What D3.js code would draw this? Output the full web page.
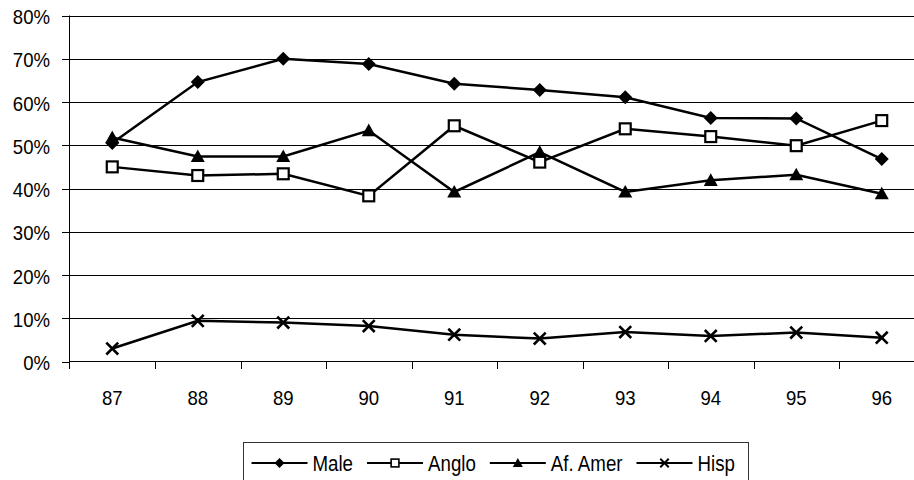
<!DOCTYPE html>
<html>
<head>
<meta charset="utf-8">
<script src="https://cdn.jsdelivr.net/npm/d3@7"></script>
<style>
  html, body { margin: 0; padding: 0; background: #fff; }
  svg { display: block; }
  text { font-family: "Liberation Sans", Arial, sans-serif; fill: #000; }
</style>
</head>
<body>
<div id="vis"></div>
<script>
//-- Data
var years = ["87", "88", "89", "90", "91", "92", "93", "94", "95", "96"];
var male  = [50.5, 64.6, 70.0, 68.8, 64.2, 62.8, 61.1, 56.3, 56.2, 46.8];
var anglo = [45.0, 43.0, 43.4, 38.3, 54.5, 46.1, 53.8, 52.0, 49.9, 55.7];
var afAmer = [51.8, 47.4, 47.4, 53.4, 39.2, 48.4, 39.2, 41.9, 43.2, 38.8];
var hisp  = [3.0, 9.4, 9.0, 8.2, 6.2, 5.3, 6.8, 5.9, 6.7, 5.5];
var yTicks = [0, 10, 20, 30, 40, 50, 60, 70, 80];

var series = [
  { name: "Male", values: male, marker: "diamond" },
  { name: "Anglo", values: anglo, marker: "square" },
  { name: "Af. Amer", values: afAmer, marker: "triangle" },
  { name: "Hisp", values: hisp, marker: "cross" }
];

//-- Setup
var width = 914;
var height = 480;

var svg = d3.select("#vis").append("svg")
  .attr("width", width)
  .attr("height", height)
  .attr("viewBox", [0, 0, width, height]);

var x = d3.scaleBand()
  .domain(years)
  .range([69.5, 924.5]);

var y = d3.scaleLinear()
  .domain([0, 80])
  .range([361.5, 15.5]);

function cx(i) { return x(years[i]) + x.bandwidth() / 2; }

// text squeezed a bit, the original font is a narrow one
function label(g, str, tx, ty, size, sx, anchor) {
  return g.append("text")
    .attr("transform", "translate(" + tx + "," + ty + ") scale(" + sx + ",1)")
    .attr("font-size", size)
    .attr("text-anchor", anchor)
    .text(str);
}

//-- Grid
svg.append("g")
  .selectAll("line")
  .data(yTicks.slice(1))
  .enter()
  .append("line")
  .attr("x1", 69.5)
  .attr("x2", width)
  .attr("y1", function (d) { return Math.round(y(d)) + 0.5; })
  .attr("y2", function (d) { return Math.round(y(d)) + 0.5; })
  .attr("stroke", "#000")
  .attr("stroke-width", 1);

//-- Axes
var axisY = svg.append("g");
axisY.append("line")
  .attr("x1", 69.5).attr("x2", 69.5)
  .attr("y1", y(80)).attr("y2", 369)
  .attr("stroke", "#000");
axisY.selectAll("line.tick")
  .data(yTicks)
  .enter()
  .append("line")
  .attr("class", "tick")
  .attr("x1", 62).attr("x2", 69.5)
  .attr("y1", function (d) { return Math.round(y(d)) + 0.5; })
  .attr("y2", function (d) { return Math.round(y(d)) + 0.5; })
  .attr("stroke", "#000");
yTicks.forEach(function (d) {
  label(axisY, d + "%", 50, y(d) + 8.5, 20, 0.93, "end");
});

var axisX = svg.append("g");
axisX.append("line")
  .attr("x1", 69.5).attr("x2", width)
  .attr("y1", 361.5).attr("y2", 361.5)
  .attr("stroke", "#000");
axisX.selectAll("line.tick")
  .data(years.slice(1))
  .enter()
  .append("line")
  .attr("class", "tick")
  .attr("x1", function (d) { return Math.round(x(d)) + 0.5; })
  .attr("x2", function (d) { return Math.round(x(d)) + 0.5; })
  .attr("y1", 361.5).attr("y2", 369)
  .attr("stroke", "#000");
years.forEach(function (d, i) {
  label(axisX, d, cx(i), 405, 20, 0.93, "middle");
});

//-- Markers
function drawMarker(g, type, mx, my, s) {
  if (type === "diamond") {
    g.append("path")
      .attr("d", "M" + mx + "," + (my - s) + "L" + (mx + s) + "," + my +
        "L" + mx + "," + (my + s) + "L" + (mx - s) + "," + my + "Z")
      .attr("fill", "#000");
  } else if (type === "square") {
    var h = s * 0.78;
    g.append("rect")
      .attr("x", mx - h).attr("y", my - h)
      .attr("width", 2 * h).attr("height", 2 * h)
      .attr("fill", "#fff")
      .attr("stroke", "#000")
      .attr("stroke-width", s > 5 ? 2.2 : 1.6);
  } else if (type === "triangle") {
    g.append("path")
      .attr("d", "M" + mx + "," + (my - s) + "L" + (mx + s) + "," + (my + s * 0.8) +
        "L" + (mx - s) + "," + (my + s * 0.8) + "Z")
      .attr("fill", "#000");
  } else {
    var c = s * 0.85;
    g.append("path")
      .attr("d", "M" + (mx - c) + "," + (my - c) + "L" + (mx + c) + "," + (my + c) +
        "M" + (mx + c) + "," + (my - c) + "L" + (mx - c) + "," + (my + c))
      .attr("stroke", "#000")
      .attr("stroke-width", s > 5 ? 2.6 : 2)
      .attr("fill", "none");
  }
}

//-- Lines
var line = d3.line()
  .x(function (d, i) { return cx(i); })
  .y(function (d) { return y(d); });

series.forEach(function (s) {
  var g = svg.append("g");
  g.append("path")
    .datum(s.values)
    .attr("d", line)
    .attr("fill", "none")
    .attr("stroke", "#000")
    .attr("stroke-width", 2.5);
  s.values.forEach(function (v, i) {
    drawMarker(g, s.marker, cx(i), y(v), 7);
  });
});

//-- Legend
var legend = svg.append("g");
legend.append("rect")
  .attr("x", 243.5).attr("y", 442.5)
  .attr("width", 505).attr("height", 45)
  .attr("fill", "#fff")
  .attr("stroke", "#333")
  .attr("stroke-width", 1);

var lx = 251.5;
var ly = 463;
series.forEach(function (s) {
  legend.append("line")
    .attr("x1", lx).attr("x2", lx + 56)
    .attr("y1", ly).attr("y2", ly)
    .attr("stroke", "#000")
    .attr("stroke-width", 2.2);
  drawMarker(legend, s.marker, lx + 28, ly, 5);
  var t = label(legend, s.name, lx + 61, ly + 8, 22, 0.85, "start");
  lx = lx + 61 + t.node().getComputedTextLength() * 0.85 + 14;
});
</script>
</body>
</html>
